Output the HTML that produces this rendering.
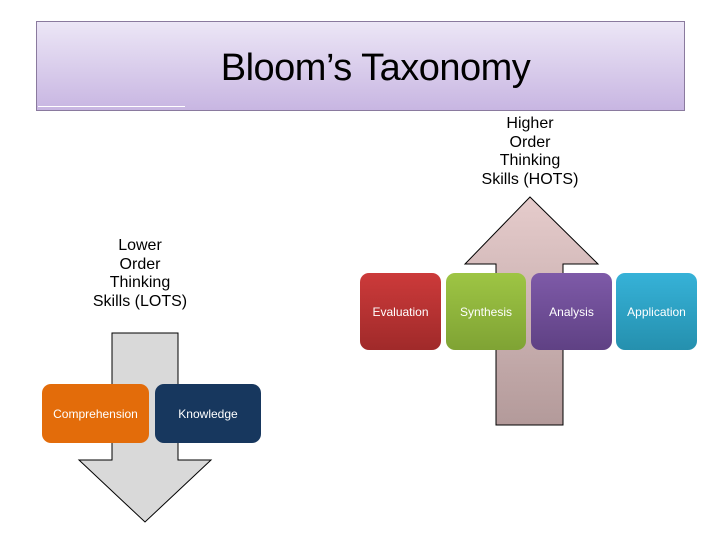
<!DOCTYPE html>
<html><head><meta charset="utf-8"><style>
body{margin:0;width:720px;height:540px;background:#fff;position:relative;overflow:hidden;font-family:"Liberation Sans",sans-serif}
.t{position:absolute;left:36px;top:21px;width:647px;height:88px;border:1px solid #8a7a9e;background:linear-gradient(#ece6f6,#c8b6e2)}
.t h1{margin:0;font-weight:normal;font-size:38px;text-align:center;line-height:92px;padding-left:30px;letter-spacing:-0.5px}
.t .l{position:absolute;left:1px;bottom:3px;width:147px;height:1px;background:#fff}
.lab{position:absolute;text-align:center;font-size:16px;line-height:18.5px;color:#000}
.b{position:absolute;border-radius:9px;color:#fff;font-size:12px;display:flex;align-items:center;justify-content:center}
</style></head><body>
<div class="t"><h1>Bloom’s Taxonomy</h1><div class="l"></div></div>
<div class="lab" style="left:470px;top:115px;width:120px">Higher<br>Order<br>Thinking<br>Skills (HOTS)</div>
<div class="lab" style="left:80px;top:237px;width:120px">Lower<br>Order<br>Thinking<br>Skills (LOTS)</div>
<svg width="720" height="540" style="position:absolute;left:0;top:0">
<defs>
<linearGradient id="u" x1="0" y1="0" x2="0" y2="1"><stop offset="0" stop-color="#e6cccc"/><stop offset="1" stop-color="#b39a9a"/></linearGradient>
</defs>
<polygon points="530,197 598,264 563,264 563,425 496,425 496,264 465,264" fill="url(#u)" stroke="#000" stroke-width="1"/>
<polygon points="112,333 178,333 178,460 211,460 145,522 79,460 112,460" fill="#d9d9d9" stroke="#000" stroke-width="1"/>
</svg>
<div class="b" style="left:360px;top:273px;width:81px;height:77px;background:linear-gradient(#cc3a3a,#a02a2a)">Evaluation</div>
<div class="b" style="left:446px;top:273px;width:80px;height:77px;background:linear-gradient(#9ec544,#7fa334)">Synthesis</div>
<div class="b" style="left:531px;top:273px;width:81px;height:77px;background:linear-gradient(#7e5aa8,#5f4184)">Analysis</div>
<div class="b" style="left:616px;top:273px;width:81px;height:77px;background:linear-gradient(#36b2d8,#2590ae)">Application</div>
<div class="b" style="left:42px;top:384px;width:107px;height:59px;background:#e36c0a">Comprehension</div>
<div class="b" style="left:155px;top:384px;width:106px;height:59px;background:#17375e">Knowledge</div>
</body></html>
